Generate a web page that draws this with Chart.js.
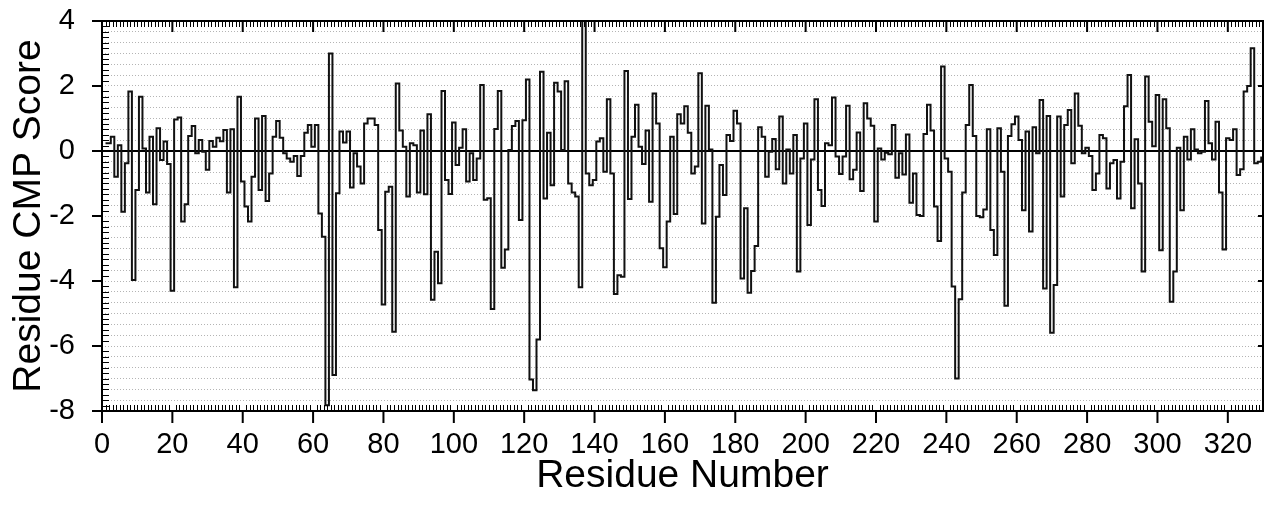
<!DOCTYPE html>
<html>
<head>
<meta charset="utf-8">
<title>Residue CMP Score</title>
<script src="https://cdn.jsdelivr.net/npm/chart.js@4"></script>
<style>
  html, body { margin: 0; padding: 0; background: #fff; }
  #wrap { width: 1264px; height: 505px; }
</style>
</head>
<body>
<div id="wrap"><canvas id="cmpChart" width="1264" height="505"></canvas></div>
<script>
"use strict";
const FONT = "Arial, 'Liberation Sans', Helvetica, sans-serif";
const FIRST_RESIDUE = 1;

// CMP score per residue (residue 1 .. 330)
const cmpScore = [
  0.24, 0.24, 0.44, -0.79, 0.18, -1.87, -0.38, 1.83, -3.97, -1.2,
  1.67, 0.08, -1.28, 0.44, -1.64, 0.7, -0.28, 0.29, -0.4, -4.3,
  0.97, 1.03, -2.17, -1.64, 0.46, 0.77, -0.07, 0.34, -0.02, -0.58,
  0.31, 0.13, 0.41, 0.3, 0.65, -1.28, 0.67, -4.19, 1.67, -0.94,
  -1.71, -2.17, -0.79, 1.0, -1.2, 1.08, -1.54, -0.69, 0.44, 0.92,
  0.41, -0.07, -0.23, -0.33, -0.15, -0.77, -0.15, 0.56, 0.8, 0.13,
  0.8, -1.92, -2.64, -7.82, 3.0, -6.89, -1.3, 0.6, 0.26, 0.6,
  -1.12, -0.07, -0.48, -1.0, 0.85, 1.0, 1.0, 0.8, -2.43, -4.72,
  -1.25, -1.1, -5.56, 2.08, 0.63, 0.13, -1.4, 0.24, 0.18, -1.28,
  0.63, -1.33, 1.13, -4.58, -3.1, -4.07, 1.85, -0.89, -1.32, 0.88,
  -0.43, 0.1, 0.67, -0.94, -0.07, -0.89, -0.23, 2.03, -1.5, -1.45,
  -4.86, 0.68, 1.85, -3.59, -3.03, 0.03, 0.77, 0.92, -2.12, 0.95,
  2.2, -7.03, -7.36, -5.8, 2.44, -1.46, 0.56, -1.05, 2.1, 1.83,
  0.03, 2.15, -1.0, -1.28, -1.4, -4.19, 4.0, -0.69, -1.05, -0.89,
  0.29, 0.39, -0.64, 1.59, -0.69, -4.4, -3.82, -3.87, 2.46, -1.48,
  0.44, 1.42, 0.13, -0.4, 0.63, -1.56, 1.77, 0.85, -2.99, -3.58,
  -2.17, 0.44, -1.94, 1.13, 0.85, 1.38, 0.56, -0.69, -0.48, 2.39,
  -2.23, 1.39, 0.05, -4.67, -2.02, -0.43, -1.35, 0.49, 0.31, 1.24,
  0.85, -3.92, -1.76, -4.36, -3.69, -2.92, 0.73, 0.44, -0.79, -0.02,
  0.37, -0.56, 1.06, -1.0, 0.05, -0.69, 0.49, -3.71, -0.23, 0.85,
  -2.28, -0.26, 1.59, -1.2, -1.69, 0.24, 0.18, 1.65, -0.17, -0.71,
  -0.17, 1.39, -0.87, -0.58, 0.57, -1.23, 1.47, 1.0, 0.78, -2.17,
  0.08, -0.26, -0.05, -0.1, 0.8, -0.82, -0.07, -0.72, 0.51, -1.59,
  -0.69, -1.97, -2.0, 0.52, 1.42, 0.63, -1.71, -2.77, 2.6, -0.23,
  -0.64, -4.17, -7.0, -4.56, -1.28, 0.8, 2.03, 0.46, -2.0, -2.04,
  -1.8, 0.67, -2.43, -3.2, 0.7, -0.64, -4.76, 0.46, 0.82, 1.06,
  0.34, -1.82, 0.6, -2.48, 0.73, -0.07, 1.57, -4.23, 1.08, -5.59,
  -4.12, 1.06, -1.4, 0.8, 1.26, -0.38, 1.77, 0.78, -0.07, 0.1,
  -0.15, -1.2, -0.69, 0.49, 0.39, -1.15, -0.38, -0.28, -1.46, -0.33,
  1.38, 2.34, -1.76, 0.36, -1.0, -3.71, 2.29, 0.9, 0.15, 1.72,
  -3.05, 1.59, 0.7, -4.64, -3.71, 0.1, -1.82, 0.44, -0.26, 0.67,
  0.05, -0.07, -0.02, 1.54, 0.24, -0.26, 0.9, -1.28, -3.03, 0.39,
  0.34, 0.67, -0.74, -0.56, 1.83, 2.0, 3.16, -0.38, -0.33, -0.2,
];

const xMajorTicks = [0, 20, 40, 60, 80, 100, 120, 140, 160, 180, 200, 220, 240, 260, 280, 300, 320];
const yMajorTicks = [-8, -6, -4, -2, 0, 2, 4];
const X_MIN = 0;
const X_MAX = 330;
const Y_MIN = -8;
const Y_MAX = 4;
const GRID_PER_UNIT = 3; // dotted lines every 1/3
const MINOR_PER_UNIT = 6; // small ticks on the left axis

// frame, zero line and the little tick marks the original plot has
const axisFrame = {
  id: "axisFrame",
  beforeDatasetsDraw(chart) {
    const { ctx, chartArea: a } = chart;
    const y0 = chart.scales.y.getPixelForValue(0);
    ctx.save();
    ctx.strokeStyle = "#000";
    ctx.lineWidth = 2;
    ctx.beginPath();
    ctx.moveTo(a.left, y0);
    ctx.lineTo(a.right, y0);
    ctx.stroke();
    ctx.restore();
  },
  afterDatasetsDraw(chart) {
    const { ctx, chartArea: a } = chart;
    const xs = chart.scales.x;
    const ys = chart.scales.y;
    ctx.save();
    ctx.strokeStyle = "#000";

    // one tick per residue, top and bottom, pointing in
    ctx.lineWidth = 1;
    ctx.beginPath();
    for (let r = X_MIN + 1; r < X_MAX; r++) {
      if (xMajorTicks.includes(r)) continue;
      const px = Math.round(xs.getPixelForValue(r)) + 0.5;
      ctx.moveTo(px, a.top);
      ctx.lineTo(px, a.top + 6);
      ctx.moveTo(px, a.bottom);
      ctx.lineTo(px, a.bottom - 6);
    }
    // minor ticks on left axis
    for (let i = 1; i < (Y_MAX - Y_MIN) * MINOR_PER_UNIT; i++) {
      const v = Y_MIN + i / MINOR_PER_UNIT;
      if (i % (2 * MINOR_PER_UNIT) === 0) continue;
      const py = Math.round(ys.getPixelForValue(v)) + 0.5;
      ctx.moveTo(a.left, py);
      ctx.lineTo(a.left + 7, py);
    }
    ctx.stroke();

    // major ticks
    ctx.lineWidth = 2;
    ctx.beginPath();
    xMajorTicks.forEach((v) => {
      const px = xs.getPixelForValue(v);
      ctx.moveTo(px, a.bottom);
      ctx.lineTo(px, a.bottom + 12);
      ctx.moveTo(px, a.top);
      ctx.lineTo(px, a.top + 11);
    });
    yMajorTicks.forEach((v) => {
      const py = ys.getPixelForValue(v);
      ctx.moveTo(a.left - 10, py);
      ctx.lineTo(a.left, py);
      ctx.moveTo(a.right - 5, py);
      ctx.lineTo(a.right, py);
    });
    ctx.stroke();

    ctx.lineWidth = 2;
    ctx.strokeRect(a.left, a.top, a.right - a.left, a.bottom - a.top);
    ctx.restore();
  },
};

function createChart() {
  const points = cmpScore.map((v, i) => ({ x: FIRST_RESIDUE + i, y: v }));
  const ctx = document.getElementById("cmpChart").getContext("2d");
  return new Chart(ctx, {
    type: "line",
    data: {
      datasets: [
        {
          label: "Residue CMP Score",
          data: points,
          stepped: "middle",
          borderColor: "#111",
          borderWidth: 2,
          pointRadius: 0,
          fill: false,
        },
      ],
    },
    options: {
      responsive: false,
      animation: false,
      devicePixelRatio: 1,
      layout: { padding: { top: 21, right: 1, left: 0, bottom: 0 } },
      plugins: { legend: { display: false }, tooltip: { enabled: false } },
      scales: {
        x: {
          type: "linear",
          min: X_MIN,
          max: X_MAX,
          afterBuildTicks: (scale) => {
            scale.ticks = xMajorTicks.map((v) => ({ value: v }));
          },
          afterFit: (scale) => {
            scale.height = 94;
            scale.paddingLeft = 0;
            scale.paddingRight = 0;
          },
          grid: { display: false },
          border: { display: false },
          ticks: {
            autoSkip: false,
            maxRotation: 0,
            padding: 9,
            color: "#000",
            font: { family: FONT, size: 29 },
          },
          title: {
            display: true,
            text: "Residue Number",
            color: "#000",
            padding: { top: 0, bottom: 5 },
            font: { family: FONT, size: 39 },
          },
        },
        y: {
          type: "linear",
          min: Y_MIN,
          max: Y_MAX,
          afterBuildTicks: (scale) => {
            const ticks = [];
            for (let i = 0; i <= (Y_MAX - Y_MIN) * GRID_PER_UNIT; i++) {
              ticks.push({ value: Y_MIN + i / GRID_PER_UNIT });
            }
            scale.ticks = ticks;
          },
          afterFit: (scale) => {
            scale.width = 102;
            scale.paddingTop = 0;
            scale.paddingBottom = 0;
          },
          grid: {
            drawTicks: false,
            lineWidth: 1,
            color: (c) => (Math.abs(c.tick.value) < 1e-6 ? "rgba(0,0,0,0)" : "#b4b4b4"),
          },
          border: { display: false, dash: [1, 2] },
          ticks: {
            autoSkip: false,
            padding: 27,
            color: "#000",
            font: { family: FONT, size: 29 },
            callback: (v) => {
              const r = Math.round(v);
              return Math.abs(v - r) < 1e-6 && yMajorTicks.includes(r) ? String(r) : "";
            },
          },
          title: {
            display: true,
            text: "Residue CMP Score",
            color: "#000",
            padding: { top: 6, bottom: 0 },
            font: { family: FONT, size: 39 },
          },
        },
      },
    },
    plugins: [axisFrame],
  });
}

createChart();
</script>
</body>
</html>
